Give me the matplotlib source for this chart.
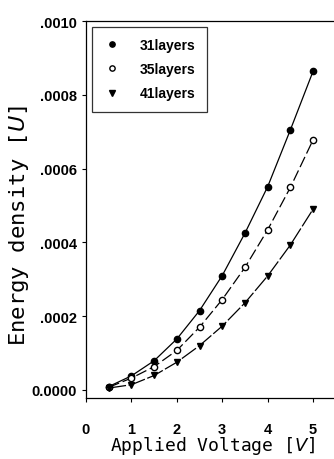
import matplotlib
matplotlib.use('Agg')
import matplotlib.pyplot as plt
from matplotlib.ticker import FuncFormatter

# Applied voltage [V]
voltage = [0.5, 1.0, 1.5, 2.0, 2.5, 3.0, 3.5, 4.0, 4.5, 5.0]

# Energy density [U] for each stack
layers31 = [0.000009, 0.000038, 0.000079, 0.000138, 0.000215, 0.000310, 0.000425, 0.000551, 0.000705, 0.000864]
layers35 = [0.000007, 0.000032, 0.000063, 0.000107, 0.000170, 0.000245, 0.000332, 0.000434, 0.000549, 0.000678]
layers41 = [0.000005, 0.000014, 0.000039, 0.000075, 0.000120, 0.000173, 0.000236, 0.000309, 0.000393, 0.000490]

fig = plt.figure(figsize=(3.34, 4.60), dpi=100)
ax = fig.add_axes([86 / 334, 61 / 460, 248 / 334, 377 / 460])

ax.plot(voltage, layers31, color='black', lw=0.9, marker='o', ms=4.5,
        mfc='black', mec='black', label='31layers')
ax.plot(voltage, layers35, color='black', lw=0.9, ls=(0, (9, 3)), marker='o', ms=4.5,
        mfc='white', mec='black', label='35layers')
ax.plot(voltage, layers41, color='black', lw=0.9, ls=(0, (14, 2)), marker='v', ms=4.5,
        mfc='black', mec='black', label='41layers')

ax.set_xlim(0, 5.46)
ax.set_ylim(-0.000022, 0.0010)
ax.set_xticks([0, 1, 2, 3, 4, 5])
ax.set_yticks([0, 0.0002, 0.0004, 0.0006, 0.0008, 0.0010])


def yfmt(v, pos):
    if abs(v) < 1e-12:
        return '0.0000'
    return ('%.4f' % v)[1:]


ax.yaxis.set_major_formatter(FuncFormatter(yfmt))
ax.tick_params(axis='both', direction='out', length=3, width=0.8,
               labelsize=10.5)
ax.tick_params(axis='x', pad=14)
for lab in ax.get_xticklabels() + ax.get_yticklabels():
    lab.set_fontfamily('Liberation Sans')
    lab.set_fontweight('bold')

ax.spines['right'].set_visible(False)
for s in ['left', 'bottom', 'top']:
    ax.spines[s].set_linewidth(0.9)

ax.set_xlabel('Applied Voltage [$V$]', fontsize=13, family='DejaVu Sans Mono')
ax.set_ylabel('Energy density [$U$]', fontsize=16, family='DejaVu Sans Mono')
ax.xaxis.set_label_coords(0.51, -0.125)
ax.xaxis.label.set_va('center')
ax.yaxis.set_label_coords(-0.27, 0.46)
ax.yaxis.label.set_va('center')

leg = ax.legend(loc='upper left', frameon=True, fancybox=False, edgecolor='black',
                handlelength=1.4, handletextpad=1.3, borderpad=0.8, labelspacing=0.75,
                markerscale=0.85,
                prop={'family': 'Liberation Sans', 'weight': 'bold', 'size': 10},
                borderaxespad=0.4)
leg.get_frame().set_linewidth(0.9)
for h in leg.legend_handles:
    h.set_linestyle('none')

plt.savefig('out.png', dpi=100)
